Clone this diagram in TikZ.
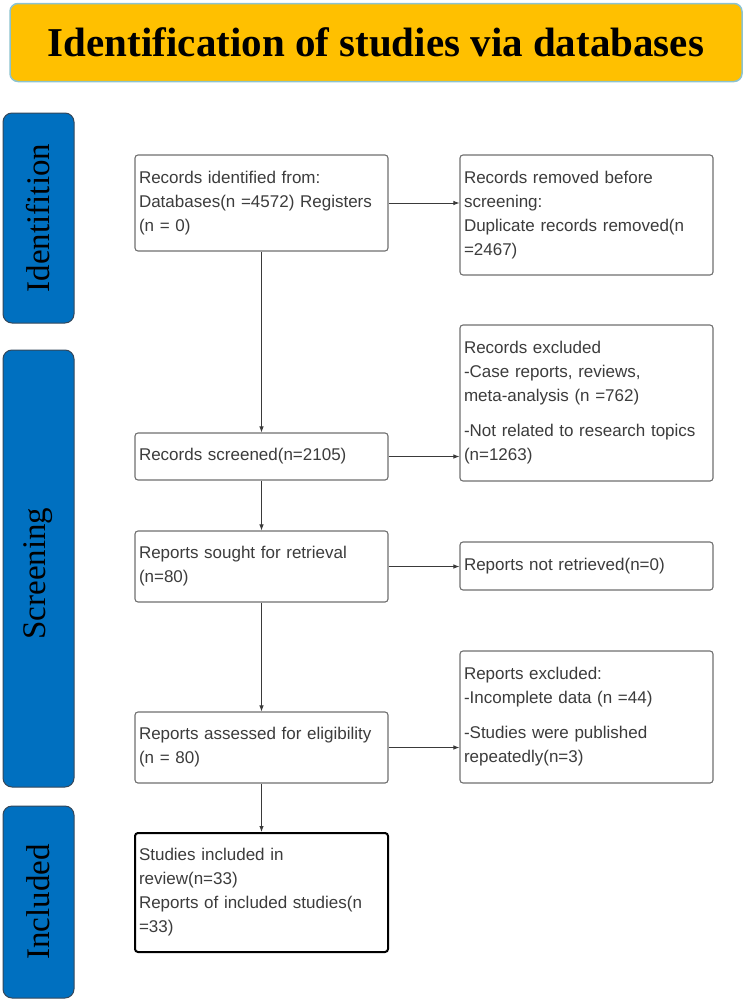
\documentclass[tikz,border=0pt]{standalone}
\usepackage{fontspec}
\setmainfont{Liberation Sans}
\newfontfamily\timesf{Liberation Serif}
\usetikzlibrary{arrows.meta}
\definecolor{titlefill}{HTML}{FFC000}
\definecolor{titleborder}{HTML}{8CC3CF}
\definecolor{sidefill}{HTML}{0070C0}
\definecolor{sideborder}{HTML}{34475A}
\definecolor{boxborder}{HTML}{707070}
\definecolor{boxtext}{HTML}{3C3C3C}
\definecolor{arrowc}{HTML}{3A3A3A}
\tikzset{
  flowbox/.style={draw=boxborder, line width=1.1pt, rounded corners=3pt, fill=white,
    minimum width=253pt, text width=245pt, inner xsep=4pt, inner ysep=0pt, align=left,
    font=\fontsize{17}{24}\selectfont, text=boxtext},
  finalbox/.style={flowbox, draw=black, line width=2pt},
  sidebox/.style={draw=sideborder, line width=1pt, fill=sidefill, rounded corners=9pt,
    minimum width=71pt, inner sep=0pt},
  sidetext/.style={rotate=90, font=\timesf\fontsize{33}{33}\selectfont, text=black},
  flowarrow/.style={draw=arrowc, line width=0.9pt, -{Latex[length=6pt,width=4.5pt]}}
}
\begin{document}
\begin{tikzpicture}[x=1pt,y=-1pt]
\useasboundingbox (0,0) rectangle (750,1001);
% title
\node[draw=titleborder, line width=1.5pt, fill=titlefill, rounded corners=8pt,
  minimum width=732pt, minimum height=78pt, inner sep=0pt,
  font=\timesf\bfseries\fontsize{41}{41}\selectfont] (title) at (376,42.5)
  {Identification of studies via databases};
% side boxes
\node[sidebox, minimum height=210pt] (sideA) at (38.5,218) {};
\node[sidetext] (sideAt) at (sideA.center) {Identifition};
\node[sidebox, minimum height=437pt] (sideB) at (38.5,568.5) {};
\node[sidetext] (sideBt) at ([yshift=-5pt]sideB.center) {Screening};
\node[sidebox, minimum height=192pt] (sideC) at (38.5,902) {};
\node[sidetext] (sideCt) at (sideC.center) {Included};
% flow boxes
\node[flowbox, minimum height=96pt] (b1) at (261.5,203)
  {Records identified from:\\Databases(n =4572) Registers\\(n = 0)};
\node[flowbox, minimum height=120pt] (b2) at (586.5,215)
  {Records removed before\\screening:\\Duplicate records removed(n\\=2467)};
\node[flowbox, minimum height=156pt] (b3) at (586.5,403)
  {Records excluded\\-Case reports, reviews,\\meta-analysis (n =762)\\[11pt]-Not related to research topics\\(n=1263)};
\node[flowbox, minimum height=47pt] (b4) at (261.5,456.5)
  {Records screened(n=2105)};
\node[flowbox, minimum height=71pt] (b5) at (261.5,566.5)
  {Reports sought for retrieval\\(n=80)};
\node[flowbox, minimum height=48pt] (b6) at (586.5,566)
  {Reports not retrieved(n=0)};
\node[flowbox, minimum height=71pt] (b7) at (261.5,747.5)
  {Reports assessed for eligibility\\(n = 80)};
\node[flowbox, minimum height=132pt] (b8) at (586.5,717)
  {Reports excluded:\\-Incomplete data (n =44)\\[11pt]-Studies were published\\repeatedly(n=3)};
\node[finalbox, minimum height=119pt] (b9) at (261.5,892.5)
  {Studies included in\\review(n=33)\\Reports of included studies(n\\=33)};
% connectors
\draw[flowarrow] (b1.south) -- (b4.north);
\draw[flowarrow] (b4.south) -- (b5.north);
\draw[flowarrow] (b5.south) -- (b7.north);
\draw[flowarrow] (b7.south) -- (b9.north);
\draw[flowarrow] (b1.east) -- (b1.east -| b2.west);
\draw[flowarrow] (b4.east) -- (b4.east -| b3.west);
\draw[flowarrow] (b5.east) -- (b5.east -| b6.west);
\draw[flowarrow] (b7.east) -- (b7.east -| b8.west);
\end{tikzpicture}
\end{document}
